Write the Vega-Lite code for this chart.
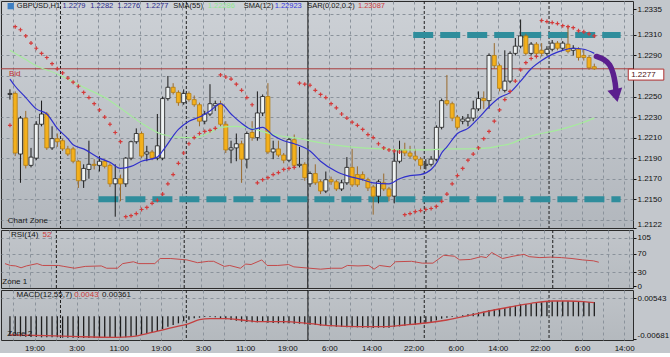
{
  "$schema": "https://vega.github.io/schema/vega-lite/v6.json",
  "background": "#c3c7cc",
  "padding": 0,
  "spacing": 2,
  "bounds": "flush",
  "config": {
    "font": "Liberation Sans",
    "view": {"stroke": "#2b2b2b", "strokeWidth": 1},
    "axis": {
      "labelFont": "Liberation Sans",
      "labelFontSize": 8, "labelColor": "#111111", "tickColor": "#111111", "tickSize": 3,
      "labelPadding": 1, "domainColor": "#2b2b2b", "gridColor": "#8a929b", "gridDash": [3, 3],
      "gridWidth": 1, "labelOverlap": false, "tickCount": 100
    },
    "text": {"font": "Liberation Sans", "fontSize": 8, "align": "left", "baseline": "middle"}
  },
  "resolve": {"scale": {"x": "independent", "y": "independent"}},
  "datasets": {
    "bars": [
      {"i":0,"o":1.2252,"h":1.2257,"l":1.2247,"c":1.2253,"s":1.2222,"m":-0.0058},
      {"i":1,"o":1.2253,"h":1.2255,"l":1.2192,"c":1.2195,"s":1.2318,"m":-0.0059},
      {"i":2,"o":1.2194,"h":1.2231,"l":1.2166,"c":1.2229,"s":1.2315,"m":-0.0060},
      {"i":3,"o":1.2229,"h":1.2236,"l":1.2180,"c":1.2183,"s":1.2309,"m":-0.0061},
      {"i":4,"o":1.2183,"h":1.2200,"l":1.2181,"c":1.2191,"s":1.2302,"m":-0.0062},
      {"i":5,"o":1.2190,"h":1.2226,"l":1.2188,"c":1.2223,"s":1.2297,"m":-0.0062},
      {"i":6,"o":1.2223,"h":1.2246,"l":1.2221,"c":1.2233,"s":1.2292,"m":-0.0063},
      {"i":7,"o":1.2233,"h":1.2235,"l":1.2198,"c":1.2200,"s":1.2288,"m":-0.0063},
      {"i":8,"o":1.2200,"h":1.2221,"l":1.2198,"c":1.2209,"s":1.2282,"m":-0.0063},
      {"i":9,"o":1.2209,"h":1.2214,"l":1.2201,"c":1.2206,"s":1.2277,"m":-0.0063},
      {"i":10,"o":1.2207,"h":1.2209,"l":1.2197,"c":1.2199,"s":1.2273,"m":-0.0064},
      {"i":11,"o":1.2199,"h":1.2202,"l":1.2192,"c":1.2194,"s":1.2268,"m":-0.0064},
      {"i":12,"o":1.2199,"h":1.2201,"l":1.2185,"c":1.2187,"s":1.2264,"m":-0.0064},
      {"i":13,"o":1.2187,"h":1.2188,"l":1.2161,"c":1.2168,"s":1.2260,"m":-0.0065},
      {"i":14,"o":1.2168,"h":1.2184,"l":1.2161,"c":1.2180,"s":1.2254,"m":-0.0065},
      {"i":15,"o":1.2179,"h":1.2207,"l":1.2170,"c":1.2184,"s":1.2249,"m":-0.0065},
      {"i":16,"o":1.2184,"h":1.2189,"l":1.2179,"c":1.2183,"s":1.2243,"m":-0.0065},
      {"i":17,"o":1.2183,"h":1.2192,"l":1.2177,"c":1.2187,"s":1.2237,"m":-0.0065},
      {"i":18,"o":1.2187,"h":1.2189,"l":1.2180,"c":1.2182,"s":1.2230,"m":-0.0065},
      {"i":19,"o":1.2183,"h":1.2185,"l":1.2162,"c":1.2165,"s":1.2223,"m":-0.0065},
      {"i":20,"o":1.2165,"h":1.2184,"l":1.2133,"c":1.2170,"s":1.2215,"m":-0.0065},
      {"i":21,"o":1.2170,"h":1.2174,"l":1.2148,"c":1.2165,"s":1.2206,"m":-0.0064},
      {"i":22,"o":1.2165,"h":1.2191,"l":1.2162,"c":1.2190,"s":1.2133,"m":-0.0063},
      {"i":23,"o":1.2190,"h":1.2207,"l":1.2188,"c":1.2206,"s":1.2134,"m":-0.0061},
      {"i":24,"o":1.2206,"h":1.2219,"l":1.2204,"c":1.2214,"s":1.2136,"m":-0.0058},
      {"i":25,"o":1.2214,"h":1.2216,"l":1.2190,"c":1.2192,"s":1.2140,"m":-0.0055},
      {"i":26,"o":1.2194,"h":1.2202,"l":1.2187,"c":1.2196,"s":1.2142,"m":-0.0052},
      {"i":27,"o":1.2196,"h":1.2198,"l":1.2188,"c":1.2190,"s":1.2146,"m":-0.0048},
      {"i":28,"o":1.2190,"h":1.2233,"l":1.2188,"c":1.2202,"s":1.2149,"m":-0.0044},
      {"i":29,"o":1.2190,"h":1.2250,"l":1.2188,"c":1.2248,"s":1.2155,"m":-0.0038},
      {"i":30,"o":1.2248,"h":1.2270,"l":1.2246,"c":1.2259,"s":1.2165,"m":-0.0031},
      {"i":31,"o":1.2259,"h":1.2263,"l":1.2252,"c":1.2254,"s":1.2174,"m":-0.0026},
      {"i":32,"o":1.2254,"h":1.2256,"l":1.2241,"c":1.2244,"s":1.2185,"m":-0.0021},
      {"i":33,"o":1.2244,"h":1.2257,"l":1.2242,"c":1.2253,"s":1.2195,"m":-0.0015},
      {"i":34,"o":1.2253,"h":1.2255,"l":1.2245,"c":1.2247,"s":1.2204,"m":-0.0010},
      {"i":35,"o":1.2247,"h":1.2251,"l":1.2240,"c":1.2242,"s":1.2210,"m":-0.0006},
      {"i":36,"o":1.2242,"h":1.2244,"l":1.2221,"c":1.2226,"s":1.2214,"m":-0.0004},
      {"i":37,"o":1.2226,"h":1.2236,"l":1.2223,"c":1.2233,"s":1.2216,"m":-0.0002},
      {"i":38,"o":1.2233,"h":1.2262,"l":1.2231,"c":1.2243,"s":1.2217,"m":-0.0002},
      {"i":39,"o":1.2241,"h":1.2246,"l":1.2236,"c":1.2243,"s":1.2219,"m":-0.0003},
      {"i":40,"o":1.2243,"h":1.2246,"l":1.2221,"c":1.2223,"s":1.2271,"m":-0.0006},
      {"i":41,"o":1.2223,"h":1.2226,"l":1.2195,"c":1.2198,"s":1.2269,"m":-0.0009},
      {"i":42,"o":1.2198,"h":1.2207,"l":1.2185,"c":1.2200,"s":1.2267,"m":-0.0011},
      {"i":43,"o":1.2200,"h":1.2214,"l":1.2187,"c":1.2204,"s":1.2262,"m":-0.0013},
      {"i":44,"o":1.2204,"h":1.2207,"l":1.2166,"c":1.2189,"s":1.2256,"m":-0.0016},
      {"i":45,"o":1.2189,"h":1.2216,"l":1.2180,"c":1.2214,"s":1.2249,"m":-0.0017},
      {"i":46,"o":1.2215,"h":1.2226,"l":1.2207,"c":1.2210,"s":1.2242,"m":-0.0018},
      {"i":47,"o":1.2210,"h":1.2255,"l":1.2207,"c":1.2234,"s":1.2166,"m":-0.0018},
      {"i":48,"o":1.2234,"h":1.2252,"l":1.2231,"c":1.2250,"s":1.2169,"m":-0.0017},
      {"i":49,"o":1.2250,"h":1.2263,"l":1.2194,"c":1.2196,"s":1.2171,"m":-0.0019},
      {"i":50,"o":1.2196,"h":1.2207,"l":1.2189,"c":1.2199,"s":1.2174,"m":-0.0020},
      {"i":51,"o":1.2199,"h":1.2207,"l":1.2191,"c":1.2193,"s":1.2176,"m":-0.0021},
      {"i":52,"o":1.2193,"h":1.2195,"l":1.2185,"c":1.2188,"s":1.2179,"m":-0.0021},
      {"i":53,"o":1.2188,"h":1.2210,"l":1.2186,"c":1.2208,"s":1.2180,"m":-0.0021},
      {"i":54,"o":1.2208,"h":1.2213,"l":1.2181,"c":1.2183,"s":1.2181,"m":-0.0022},
      {"i":55,"o":1.2183,"h":1.2201,"l":1.2181,"c":1.2184,"s":1.2263,"m":-0.0022},
      {"i":56,"o":1.2184,"h":1.2186,"l":1.2168,"c":1.2171,"s":1.2262,"m":-0.0024},
      {"i":57,"o":1.2165,"h":1.2177,"l":1.2162,"c":1.2175,"s":1.2261,"m":-0.0025},
      {"i":58,"o":1.2175,"h":1.2184,"l":1.2164,"c":1.2166,"s":1.2256,"m":-0.0026},
      {"i":59,"o":1.2167,"h":1.2169,"l":1.2155,"c":1.2158,"s":1.2252,"m":-0.0028},
      {"i":60,"o":1.2158,"h":1.2177,"l":1.2156,"c":1.2169,"s":1.2249,"m":-0.0029},
      {"i":61,"o":1.2169,"h":1.2172,"l":1.2164,"c":1.2167,"s":1.2243,"m":-0.0030},
      {"i":62,"o":1.2167,"h":1.2169,"l":1.2158,"c":1.2160,"s":1.2239,"m":-0.0031},
      {"i":63,"o":1.2160,"h":1.2169,"l":1.2158,"c":1.2166,"s":1.2233,"m":-0.0032},
      {"i":64,"o":1.2166,"h":1.2191,"l":1.2164,"c":1.2181,"s":1.2229,"m":-0.0033},
      {"i":65,"o":1.2181,"h":1.2199,"l":1.2162,"c":1.2164,"s":1.2225,"m":-0.0033},
      {"i":66,"o":1.2174,"h":1.2182,"l":1.2162,"c":1.2164,"s":1.2222,"m":-0.0033},
      {"i":67,"o":1.2174,"h":1.2177,"l":1.2168,"c":1.2170,"s":1.2218,"m":-0.0034},
      {"i":68,"o":1.2169,"h":1.2171,"l":1.2158,"c":1.2161,"s":1.2213,"m":-0.0034},
      {"i":69,"o":1.2162,"h":1.2164,"l":1.2135,"c":1.2153,"s":1.2210,"m":-0.0035},
      {"i":70,"o":1.2153,"h":1.2169,"l":1.2146,"c":1.2167,"s":1.2204,"m":-0.0034},
      {"i":71,"o":1.2166,"h":1.2175,"l":1.2158,"c":1.2160,"s":1.2200,"m":-0.0034},
      {"i":72,"o":1.2160,"h":1.2162,"l":1.2148,"c":1.2153,"s":1.2198,"m":-0.0034},
      {"i":73,"o":1.2153,"h":1.2197,"l":1.2146,"c":1.2187,"s":1.2197,"m":-0.0032},
      {"i":74,"o":1.2187,"h":1.2207,"l":1.2185,"c":1.2198,"s":1.2196,"m":-0.0030},
      {"i":75,"o":1.2198,"h":1.2205,"l":1.2192,"c":1.2195,"s":1.2135,"m":-0.0028},
      {"i":76,"o":1.2195,"h":1.2202,"l":1.2190,"c":1.2192,"s":1.2136,"m":-0.0026},
      {"i":77,"o":1.2192,"h":1.2199,"l":1.2187,"c":1.2189,"s":1.2138,"m":-0.0025},
      {"i":78,"o":1.2189,"h":1.2191,"l":1.2179,"c":1.2183,"s":1.2139,"m":-0.0023},
      {"i":79,"o":1.2183,"h":1.2189,"l":1.2179,"c":1.2184,"s":1.2140,"m":-0.0020},
      {"i":80,"o":1.2184,"h":1.2192,"l":1.2182,"c":1.2189,"s":1.2141,"m":-0.0017},
      {"i":81,"o":1.2189,"h":1.2222,"l":1.2187,"c":1.2220,"s":1.2143,"m":-0.0012},
      {"i":82,"o":1.2220,"h":1.2248,"l":1.2218,"c":1.2246,"s":1.2148,"m":-0.0007},
      {"i":83,"o":1.2246,"h":1.2271,"l":1.2241,"c":1.2243,"s":1.2155,"m":-0.0004},
      {"i":84,"o":1.2243,"h":1.2245,"l":1.2226,"c":1.2229,"s":1.2165,"m":-0.0002},
      {"i":85,"o":1.2230,"h":1.2232,"l":1.2218,"c":1.2220,"s":1.2173,"m":0.0001},
      {"i":86,"o":1.2226,"h":1.2231,"l":1.2223,"c":1.2228,"s":1.2180,"m":0.0003},
      {"i":87,"o":1.2226,"h":1.2233,"l":1.2221,"c":1.2229,"s":1.2188,"m":0.0006},
      {"i":88,"o":1.2229,"h":1.2246,"l":1.2226,"c":1.2238,"s":1.2194,"m":0.0009},
      {"i":89,"o":1.2238,"h":1.2255,"l":1.2236,"c":1.2248,"s":1.2200,"m":0.0012},
      {"i":90,"o":1.2248,"h":1.2255,"l":1.2238,"c":1.2246,"s":1.2209,"m":0.0014},
      {"i":91,"o":1.2246,"h":1.2292,"l":1.2238,"c":1.2290,"s":1.2216,"m":0.0019},
      {"i":92,"o":1.2290,"h":1.2302,"l":1.2277,"c":1.2280,"s":1.2226,"m":0.0021},
      {"i":93,"o":1.2280,"h":1.2282,"l":1.2255,"c":1.2258,"s":1.2237,"m":0.0022},
      {"i":94,"o":1.2256,"h":1.2295,"l":1.2254,"c":1.2265,"s":1.2247,"m":0.0025},
      {"i":95,"o":1.2265,"h":1.2294,"l":1.2263,"c":1.2292,"s":1.2255,"m":0.0029},
      {"i":96,"o":1.2292,"h":1.2307,"l":1.2290,"c":1.2299,"s":1.2265,"m":0.0032},
      {"i":97,"o":1.2299,"h":1.2325,"l":1.2297,"c":1.2309,"s":1.2276,"m":0.0036},
      {"i":98,"o":1.2309,"h":1.2311,"l":1.2290,"c":1.2292,"s":1.2283,"m":0.0037},
      {"i":99,"o":1.2292,"h":1.2303,"l":1.2290,"c":1.2301,"s":1.2287,"m":0.0039},
      {"i":100,"o":1.2301,"h":1.2303,"l":1.2290,"c":1.2292,"s":1.2289,"m":0.0040},
      {"i":101,"o":1.2295,"h":1.2302,"l":1.2289,"c":1.2292,"s":1.2324,"m":0.0042},
      {"i":102,"o":1.2292,"h":1.2299,"l":1.2290,"c":1.2296,"s":1.2323,"m":0.0043},
      {"i":103,"o":1.2296,"h":1.2305,"l":1.2294,"c":1.2302,"s":1.2322,"m":0.0045},
      {"i":104,"o":1.2302,"h":1.2304,"l":1.2295,"c":1.2297,"s":1.2321,"m":0.0046},
      {"i":105,"o":1.2297,"h":1.2304,"l":1.2295,"c":1.2302,"s":1.2319,"m":0.0046},
      {"i":106,"o":1.2301,"h":1.2319,"l":1.2292,"c":1.2294,"s":1.2318,"m":0.0046},
      {"i":107,"o":1.2295,"h":1.2300,"l":1.2290,"c":1.2297,"s":1.2317,"m":0.0046},
      {"i":108,"o":1.2296,"h":1.2298,"l":1.2285,"c":1.2288,"s":1.2314,"m":0.0045},
      {"i":109,"o":1.2290,"h":1.2296,"l":1.2285,"c":1.2288,"s":1.2313,"m":0.0044},
      {"i":110,"o":1.2288,"h":1.2290,"l":1.2276,"c":1.2278,"s":1.2311,"m":0.0043},
      {"i":111,"o":1.2279,"h":1.2282,"l":1.2276,"c":1.2277,"s":1.2309,"m":0.0043}
    ],
    "sma12": [
      {"i":0,"v":1.2267},{"i":1,"v":1.2260},{"i":3,"v":1.2249},{"i":5,"v":1.2238},{"i":7,"v":1.2233},
      {"i":9,"v":1.2219},{"i":11,"v":1.2209},{"i":12,"v":1.2203},{"i":14,"v":1.2199},{"i":17,"v":1.2190},
      {"i":19,"v":1.2186},{"i":21,"v":1.2180},{"i":23,"v":1.2182},{"i":25,"v":1.2187},{"i":28,"v":1.2191},
      {"i":29,"v":1.2197},{"i":32,"v":1.2218},{"i":34,"v":1.2226},{"i":36,"v":1.2230},{"i":38,"v":1.2236},
      {"i":40,"v":1.2243},{"i":42,"v":1.2233},{"i":44,"v":1.2224},{"i":46,"v":1.2218},{"i":48,"v":1.2220},
      {"i":50,"v":1.2212},{"i":52,"v":1.2207},{"i":54,"v":1.2204},{"i":57,"v":1.2197},{"i":59,"v":1.2187},
      {"i":62,"v":1.2177},{"i":64,"v":1.2173},{"i":67,"v":1.2169},{"i":69,"v":1.2166},{"i":72,"v":1.2165},
      {"i":74,"v":1.2170},{"i":76,"v":1.2173},{"i":78,"v":1.2174},{"i":80,"v":1.2179},{"i":81,"v":1.2185},
      {"i":82,"v":1.2195},{"i":83,"v":1.2201},{"i":85,"v":1.2214},{"i":87,"v":1.2219},{"i":89,"v":1.2229},
      {"i":91,"v":1.2240},{"i":93,"v":1.2249},{"i":95,"v":1.2254},{"i":97,"v":1.2265},{"i":99,"v":1.2277},
      {"i":101,"v":1.2285},{"i":103,"v":1.2291},{"i":105,"v":1.2295},{"i":107,"v":1.2297},{"i":109,"v":1.2296},
      {"i":111,"v":1.2292}
    ],
    "sma55": [
      {"i":0,"v":1.2295},{"i":3,"v":1.2286},{"i":5,"v":1.2280},{"i":9,"v":1.2272},{"i":14,"v":1.2259},
      {"i":18,"v":1.2249},{"i":22,"v":1.2235},{"i":25,"v":1.2224},{"i":29,"v":1.2213},{"i":33,"v":1.2210},
      {"i":35,"v":1.2210},{"i":38,"v":1.2215},{"i":40,"v":1.2220},{"i":43,"v":1.2221},{"i":46,"v":1.2219},
      {"i":50,"v":1.2213},{"i":55,"v":1.2209},{"i":59,"v":1.2205},{"i":63,"v":1.2202},{"i":67,"v":1.2200},
      {"i":71,"v":1.2199},{"i":75,"v":1.2198},{"i":79,"v":1.2198},{"i":83,"v":1.2199},{"i":87,"v":1.2199},
      {"i":91,"v":1.2200},{"i":93,"v":1.2202},{"i":95,"v":1.2204},{"i":97,"v":1.2208},{"i":100,"v":1.2213},
      {"i":103,"v":1.2216},{"i":106,"v":1.2220},{"i":109,"v":1.2225},{"i":111,"v":1.2229}
    ],
    "rsi": [
      {"i":0,"v":49},{"i":1,"v":45},{"i":2,"v":44},{"i":3,"v":40},{"i":4,"v":44},{"i":6,"v":49},{"i":7,"v":45},
      {"i":10,"v":45},{"i":11,"v":43},{"i":13,"v":39},{"i":15,"v":43},{"i":18,"v":44},{"i":19,"v":39},{"i":21,"v":39},
      {"i":22,"v":49},{"i":24,"v":53},{"i":25,"v":49},{"i":28,"v":49},{"i":29,"v":60},{"i":31,"v":60},{"i":34,"v":57},
      {"i":36,"v":51},{"i":38,"v":54},{"i":39,"v":54},{"i":41,"v":43},{"i":42,"v":45},{"i":44,"v":39},{"i":45,"v":48},
      {"i":46,"v":47},{"i":48,"v":57},{"i":49,"v":45},{"i":51,"v":45},{"i":53,"v":47},{"i":54,"v":42},{"i":57,"v":39},
      {"i":59,"v":37},{"i":61,"v":39},{"i":63,"v":39},{"i":64,"v":45},{"i":66,"v":44},{"i":68,"v":45},{"i":69,"v":37},
      {"i":70,"v":45},{"i":72,"v":42},{"i":73,"v":53},{"i":76,"v":54},{"i":78,"v":50},{"i":80,"v":50},{"i":82,"v":67},
      {"i":84,"v":65},{"i":85,"v":57},{"i":87,"v":58},{"i":89,"v":64},{"i":90,"v":62},{"i":91,"v":73},{"i":93,"v":60},
      {"i":95,"v":65},{"i":97,"v":69},{"i":98,"v":64},{"i":100,"v":62},{"i":102,"v":63},{"i":104,"v":62},{"i":106,"v":60},
      {"i":108,"v":57},{"i":110,"v":55},{"i":111,"v":52}
    ],
    "sig": [
      {"i":0,"v":-0.0056},{"i":7,"v":-0.0058},{"i":13,"v":-0.0061},{"i":20,"v":-0.0063},{"i":23,"v":-0.0061},
      {"i":27,"v":-0.0048},{"i":31,"v":-0.0033},{"i":34,"v":-0.0022},{"i":36,"v":-0.0010},{"i":38,"v":-0.0007},
      {"i":41,"v":-0.0007},{"i":44,"v":-0.0011},{"i":47,"v":-0.0016},{"i":52,"v":-0.0016},{"i":57,"v":-0.0022},
      {"i":61,"v":-0.0028},{"i":66,"v":-0.0031},{"i":71,"v":-0.0031},{"i":75,"v":-0.0026},{"i":79,"v":-0.0020},
      {"i":83,"v":-0.0011},{"i":87,"v":0.0002},{"i":91,"v":0.0016},{"i":95,"v":0.0028},{"i":99,"v":0.0039},
      {"i":103,"v":0.0046},{"i":106,"v":0.0046},{"i":109,"v":0.0044},{"i":111,"v":0.0041}
    ],
    "sepDash": [{"i":9.6},{"i":33.5},{"i":78.7},{"i":102.4}],
    "sepSolid": [{"i":56.6}]
  },
  "vconcat": [
    {
      "width": 632,
      "height": 227,
      "view": {"stroke": "#2b2b2b", "fill": {"gradient": "linear", "x1": 0, "y1": 0, "x2": 0, "y2": 1, "stops": [{"offset": 0, "color": "#cdd1d6"}, {"offset": 1, "color": "#b2b7bd"}]}},
      "layer": [
        {
          "data": {"name": "bars"},
          "mark": {"type": "rule", "strokeWidth": 1},
          "encoding": {
            "x": {"field": "i", "type": "quantitative", "scale": {"domain": [-0.75, 117.4], "nice": false, "zero": false},
              "axis": {"values": [0.67,4.67,8.67,12.67,16.67,20.67,24.67,28.67,32.67,36.67,40.67,44.67,48.67,52.67,56.67,60.67,64.67,68.67,72.67,76.67,80.67,84.67,88.67,92.67,96.67,100.67,104.67,108.67,112.67,116.67], "tickCount": 100, "labels": false, "ticks": false, "domain": false, "title": null, "grid": true}},
            "y": {"field": "l", "type": "quantitative", "scale": {"domain": [1.2122, 1.2343], "nice": false, "zero": false},
              "axis": {"orient": "right", "title": null, "domain": false, "grid": true, "labelOverlap": false, "tickCount": 100,
                "values": [1.2122, 1.213, 1.215, 1.217, 1.219, 1.221, 1.223, 1.225, 1.227, 1.229, 1.231, 1.233, 1.2335],
                "labelExpr": "(datum.value == 1.213 || datum.value == 1.227 || datum.value == 1.233) ? '' : format(datum.value, '.4f')",
                "gridOpacity": {"condition": {"test": "datum.value == 1.2122 || datum.value == 1.2335", "value": 0}, "value": 1},
                "tickOpacity": {"condition": {"test": "datum.value == 1.213 || datum.value == 1.227 || datum.value == 1.233", "value": 0}, "value": 1},
                "labelBaseline": {"condition": {"test": "datum.value == 1.2122", "value": "bottom"}, "value": "middle"}}},
            "y2": {"field": "h"},
            "color": {"value": "#00000000"}
          }
        },
        {
          "data": {"name": "sepDash"},
          "mark": {"type": "rule", "color": "#1e1e1e", "strokeDash": [3, 2], "strokeWidth": 1},
          "encoding": {"x": {"field": "i", "type": "quantitative"}}
        },
        {
          "data": {"name": "sepSolid"},
          "mark": {"type": "rule", "color": "#111111", "strokeWidth": 1},
          "encoding": {"x": {"field": "i", "type": "quantitative"}}
        },
        {
          "data": {"values": [{}]},
          "mark": {"type": "rule", "color": "#a83c3c", "strokeWidth": 1},
          "encoding": {"y": {"datum": 1.2277, "type": "quantitative"}}
        },
        {
          "data": {"values": [{"a": 16.8, "b": 116.0, "p": 1.215}, {"a": 76.6, "b": 116.0, "p": 1.231}]},
          "mark": {"type": "rule", "color": "#2f8d9c", "strokeWidth": 6, "strokeDash": [20, 7], "strokeCap": "butt"},
          "encoding": {"x": {"field": "a", "type": "quantitative"}, "x2": {"field": "b"}, "y": {"field": "p", "type": "quantitative"}}
        },
        {
          "data": {"name": "bars"},
          "mark": {"type": "rule", "strokeWidth": 1},
          "encoding": {
            "x": {"field": "i", "type": "quantitative"},
            "y": {"field": "l", "type": "quantitative"},
            "y2": {"field": "h"},
            "color": {"condition": {"test": "datum.c >= datum.o", "value": "#1a1a1a"}, "value": "#9a6a2c"}
          }
        },
        {
          "data": {"name": "bars"},
          "mark": {"type": "bar", "width": 4, "strokeWidth": 0.8},
          "encoding": {
            "x": {"field": "i", "type": "quantitative"},
            "y": {"field": "o", "type": "quantitative"},
            "y2": {"field": "c"},
            "fill": {"condition": {"test": "datum.c >= datum.o", "value": "#eef2f2"}, "value": "#f3b01c"},
            "stroke": {"condition": {"test": "datum.c >= datum.o", "value": "#1a1a1a"}, "value": "#b57d12"}
          }
        },
        {
          "data": {"name": "sma55"},
          "mark": {"type": "line", "color": "#a6ec9c", "strokeWidth": 1.2, "interpolate": "monotone"},
          "encoding": {"x": {"field": "i", "type": "quantitative"}, "y": {"field": "v", "type": "quantitative"}}
        },
        {
          "data": {"name": "sma12"},
          "mark": {"type": "line", "color": "#3030cc", "strokeWidth": 1.2, "interpolate": "monotone"},
          "encoding": {"x": {"field": "i", "type": "quantitative"}, "y": {"field": "v", "type": "quantitative"}}
        },
        {
          "data": {"name": "bars"},
          "mark": {"type": "point", "shape": "M-1,0H1M0,-1V1", "filled": false, "color": "#d43a3a", "size": 16, "strokeWidth": 1.2, "opacity": 1},
          "encoding": {"x": {"field": "i", "type": "quantitative"}, "y": {"field": "s", "type": "quantitative"}}
        },
        {
          "data": {"values": [{"i": 111.4, "p": 1.2289}, {"i": 112.9, "p": 1.22865}, {"i": 114.0, "p": 1.2281}, {"i": 114.6, "p": 1.2273}, {"i": 115.0, "p": 1.2263}, {"i": 115.1, "p": 1.2256}]},
          "mark": {"type": "line", "color": "#5b1f8e", "strokeWidth": 5.5, "interpolate": "basis", "strokeCap": "round"},
          "encoding": {"x": {"field": "i", "type": "quantitative"}, "y": {"field": "p", "type": "quantitative"}}
        },
        {
          "data": {"values": [{"i": 115.15, "p": 1.2251}]},
          "mark": {"type": "point", "shape": "triangle-down", "filled": true, "color": "#5b1f8e", "size": 230, "angle": -12, "opacity": 1},
          "encoding": {"x": {"field": "i", "type": "quantitative"}, "y": {"field": "p", "type": "quantitative"}}
        },
        {
          "data": {"values": [{"i": 0.15}]},
          "mark": {"type": "point", "shape": "square", "filled": true, "color": "#3d7fc4", "size": 40, "opacity": 1},
          "encoding": {"x": {"field": "i", "type": "quantitative"}, "y": {"datum": 1.2338}}
        },
        {
          "data": {"values": [{"i": 1.31, "t": "GBPUSD,H1"}, {"i": 31.03, "t": "SMA(55)"}, {"i": 44.43, "t": "SMA(12)"}, {"i": 56.45, "t": "SAR(0.02,0.2)"}]},
          "mark": {"type": "text", "color": "#151515", "fontSize": 7.5},
          "encoding": {"x": {"field": "i", "type": "quantitative"}, "y": {"datum": 1.2338}, "text": {"field": "t"}}
        },
        {
          "data": {"values": [{"i": 10.0, "t": "1.2279"}, {"i": 15.27, "t": "1.2282"}, {"i": 20.37, "t": "1.2276"}, {"i": 25.74, "t": "1.2277"}]},
          "mark": {"type": "text", "color": "#2a2a8c", "fontSize": 7.5},
          "encoding": {"x": {"field": "i", "type": "quantitative"}, "y": {"datum": 1.2338}, "text": {"field": "t"}}
        },
        {
          "data": {"values": [{"i": 50.28, "t": "1.22923"}]},
          "mark": {"type": "text", "color": "#3636e0", "fontSize": 7.5},
          "encoding": {"x": {"field": "i", "type": "quantitative"}, "y": {"datum": 1.2338}, "text": {"field": "t"}}
        },
        {
          "data": {"values": [{"i": 37.57, "t": "1.22286"}]},
          "mark": {"type": "text", "color": "#8ee88e", "fontSize": 7.5},
          "encoding": {"x": {"field": "i", "type": "quantitative"}, "y": {"datum": 1.2338}, "text": {"field": "t"}}
        },
        {
          "data": {"values": [{"i": 66.1, "t": "1.23087"}]},
          "mark": {"type": "text", "color": "#cc3c3c", "fontSize": 7.5},
          "encoding": {"x": {"field": "i", "type": "quantitative"}, "y": {"datum": 1.2338}, "text": {"field": "t"}}
        },
        {
          "data": {"values": [{"i": -0.2, "t": "Bid"}]},
          "mark": {"type": "text", "color": "#c03030"},
          "encoding": {"x": {"field": "i", "type": "quantitative"}, "y": {"datum": 1.2272}, "text": {"field": "t"}}
        },
        {
          "data": {"values": [{"i": -0.4, "t": "Chart Zone"}]},
          "mark": {"type": "text", "color": "#1a1a1a"},
          "encoding": {"x": {"field": "i", "type": "quantitative"}, "y": {"datum": 1.2129}, "text": {"field": "t"}}
        },
        {
          "data": {"values": [{"a": 117.45, "b": 124.2}]},
          "mark": {"type": "rect", "fill": "#ffffff", "stroke": "#b03030", "strokeWidth": 1},
          "encoding": {"x": {"field": "a", "type": "quantitative"}, "x2": {"field": "b"}, "y": {"datum": 1.22767}, "y2": {"datum": 1.2266}}
        },
        {
          "data": {"values": [{"i": 118.0, "t": "1.2277"}]},
          "mark": {"type": "text", "color": "#4a1010"},
          "encoding": {"x": {"field": "i", "type": "quantitative"}, "y": {"datum": 1.22713}, "text": {"field": "t"}}
        }
      ]
    },
    {
      "width": 632,
      "height": 58,
      "view": {"stroke": "#2b2b2b", "fill": {"gradient": "linear", "x1": 0, "y1": 0, "x2": 0, "y2": 1, "stops": [{"offset": 0, "color": "#c1c5ca"}, {"offset": 1, "color": "#b6bbc0"}]}},
      "layer": [
        {
          "data": {"name": "sepDash"},
          "mark": {"type": "rule", "color": "#1e1e1e", "strokeDash": [3, 2], "strokeWidth": 1},
          "encoding": {"x": {"field": "i", "type": "quantitative", "scale": {"domain": [-0.75, 117.4], "nice": false, "zero": false},
            "axis": {"values": [0.67,4.67,8.67,12.67,16.67,20.67,24.67,28.67,32.67,36.67,40.67,44.67,48.67,52.67,56.67,60.67,64.67,68.67,72.67,76.67,80.67,84.67,88.67,92.67,96.67,100.67,104.67,108.67,112.67,116.67], "tickCount": 100, "labels": false, "ticks": false, "domain": false, "title": null, "grid": true}}}
        },
        {
          "data": {"name": "sepSolid"},
          "mark": {"type": "rule", "color": "#111111", "strokeWidth": 1},
          "encoding": {"x": {"field": "i", "type": "quantitative"}}
        },
        {
          "data": {"name": "rsi"},
          "mark": {"type": "line", "color": "#c44a4a", "strokeWidth": 1},
          "encoding": {
            "x": {"field": "i", "type": "quantitative"},
            "y": {"field": "v", "type": "quantitative", "scale": {"domain": [-3.67, 121.6], "nice": false, "zero": false},
              "axis": {"orient": "right", "title": null, "domain": false, "grid": true, "labelOverlap": false, "tickCount": 100, "values": [0, 30, 70, 105], "format": "d",
                "gridOpacity": {"condition": {"test": "datum.value == 0", "value": 0}, "value": 1}}}
          }
        },
        {
          "data": {"values": [{"i": 1.1, "t": "RSI(14)"}]},
          "mark": {"type": "text", "color": "#151515"},
          "encoding": {"x": {"field": "i", "type": "quantitative"}, "y": {"datum": 111}, "text": {"field": "t"}}
        },
        {
          "data": {"values": [{"i": 7.0, "t": "52"}]},
          "mark": {"type": "text", "color": "#cc3c3c"},
          "encoding": {"x": {"field": "i", "type": "quantitative"}, "y": {"datum": 111}, "text": {"field": "t"}}
        },
        {
          "data": {"values": [{"i": -0.5, "t": "Zone 1"}]},
          "mark": {"type": "text", "color": "#151515"},
          "encoding": {"x": {"field": "i", "type": "quantitative"}, "y": {"datum": 10}, "text": {"field": "t"}}
        }
      ]
    },
    {
      "width": 632,
      "height": 50,
      "view": {"stroke": "#2b2b2b", "fill": {"gradient": "linear", "x1": 0, "y1": 0, "x2": 0, "y2": 1, "stops": [{"offset": 0, "color": "#bfc3c8"}, {"offset": 1, "color": "#b4b9be"}]}},
      "layer": [
        {
          "data": {"name": "sepDash"},
          "mark": {"type": "rule", "color": "#1e1e1e", "strokeDash": [3, 2], "strokeWidth": 1},
          "encoding": {"x": {"field": "i", "type": "quantitative", "scale": {"domain": [-0.75, 117.4], "nice": false, "zero": false},
            "axis": {"values": [0.67,4.67,8.67,12.67,16.67,20.67,24.67,28.67,32.67,36.67,40.67,44.67,48.67,52.67,56.67,60.67,64.67,68.67,72.67,76.67,80.67,84.67,88.67,92.67,96.67,100.67,104.67,108.67,112.67,116.67],
              "tickCount": 100,
              "labelExpr": "(round((datum.value - 0.67) / 4) % 2 == 1) ? ['19:00','3:00','11:00','19:00','3:00','11:00','19:00','6:00','14:00','22:00','6:00','14:00','22:00','6:00','14:00'][round((datum.value - 4.67) / 8)] : ''",
              "labelOverlap": false, "ticks": false, "domain": false, "title": null, "grid": true, "labelPadding": 4}}}
        },
        {
          "data": {"name": "sepSolid"},
          "mark": {"type": "rule", "color": "#111111", "strokeWidth": 1},
          "encoding": {"x": {"field": "i", "type": "quantitative"}}
        },
        {
          "data": {"name": "bars"},
          "mark": {"type": "bar", "width": 1.3, "color": "#1e1e1e"},
          "encoding": {
            "x": {"field": "i", "type": "quantitative"},
            "y": {"field": "m", "type": "quantitative", "scale": {"domain": [-0.0071, 0.0079], "nice": false, "zero": false},
              "axis": {"orient": "right", "title": null, "domain": false, "grid": true, "labelOverlap": false, "tickCount": 100, "values": [-0.00681, 0.00543],
                "labelExpr": "replace(format(datum.value, '.5f'), '\u2212', '-')",
                "gridOpacity": {"condition": {"test": "datum.value < 0", "value": 0}, "value": 1},
                "labelBaseline": {"condition": {"test": "datum.value < 0", "value": "bottom"}, "value": "middle"}}},
            "y2": {"datum": 0}
          }
        },
        {
          "data": {"name": "sig"},
          "mark": {"type": "line", "color": "#c44040", "strokeWidth": 1.3, "interpolate": "monotone"},
          "encoding": {"x": {"field": "i", "type": "quantitative"}, "y": {"field": "v", "type": "quantitative"}}
        },
        {
          "data": {"values": [{"i": 1.25, "t": "MACD(12,55,7)"}, {"i": 17.5, "t": "0.00361"}]},
          "mark": {"type": "text", "color": "#151515"},
          "encoding": {"x": {"field": "i", "type": "quantitative"}, "y": {"datum": 0.0064}, "text": {"field": "t"}}
        },
        {
          "data": {"values": [{"i": 12.2, "t": "0.0043"}]},
          "mark": {"type": "text", "color": "#cc3c3c"},
          "encoding": {"x": {"field": "i", "type": "quantitative"}, "y": {"datum": 0.0064}, "text": {"field": "t"}}
        },
        {
          "data": {"values": [{"i": -0.5, "t": "Zone 2"}]},
          "mark": {"type": "text", "color": "#151515"},
          "encoding": {"x": {"field": "i", "type": "quantitative"}, "y": {"datum": -0.0052}, "text": {"field": "t"}}
        }
      ]
    }
  ]
}
